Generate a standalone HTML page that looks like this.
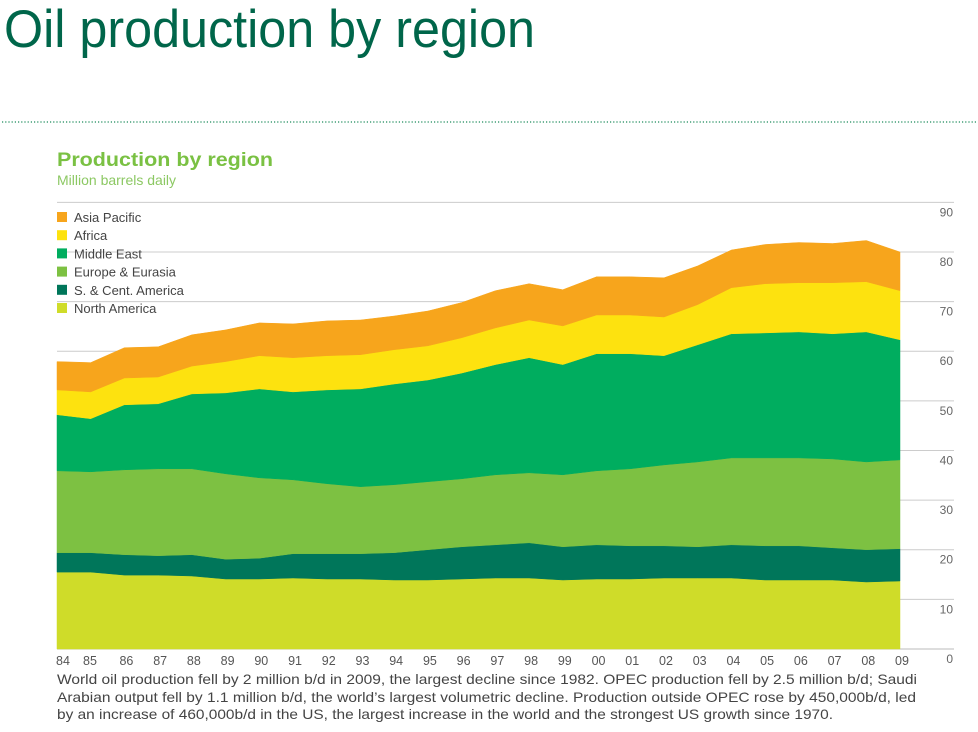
<!DOCTYPE html>
<html><head><meta charset="utf-8"><style>
body{margin:0;background:#fff;}
svg{display:block;font-family:"Liberation Sans",Arial,sans-serif;}
</style></head><body>
<svg id="chart" width="978" height="732" viewBox="0 0 978 732">
<text x="4" y="47" font-size="53" fill="#00664a" textLength="531" lengthAdjust="spacingAndGlyphs">Oil production by region</text>
<line x1="2" y1="122" x2="978" y2="122" stroke="#1a8a5a" stroke-width="1.2" stroke-dasharray="1.2,2"/>
<text x="57" y="166" font-size="19" font-weight="bold" fill="#7ac143" textLength="216" lengthAdjust="spacingAndGlyphs">Production by region</text>
<text x="57" y="185" font-size="14" fill="#8cc863">Million barrels daily</text>
<g id="grid"></g>
<g id="areas"></g>
<g id="legend"></g>
<g id="xlabels"></g>
<g font-size="14" fill="#444">
<text x="57" y="684" textLength="860" lengthAdjust="spacingAndGlyphs">World oil production fell by 2 million b/d in 2009, the largest decline since 1982. OPEC production fell by 2.5 million b/d; Saudi</text>
<text x="57" y="702" textLength="859" lengthAdjust="spacingAndGlyphs">Arabian output fell by 1.1 million b/d, the world’s largest volumetric decline. Production outside OPEC rose by 450,000b/d, led</text>
<text x="57" y="719" textLength="776" lengthAdjust="spacingAndGlyphs">by an increase of 460,000b/d in the US, the largest increase in the world and the strongest US growth since 1970.</text>
</g>
</svg>
<script>
const years = ["84","85","86","87","88","89","90","91","92","93","94","95","96","97","98","99","00","01","02","03","04","05","06","07","08","09"];
const yTicks = [0,10,20,30,40,50,60,70,80,90];
// Cumulative (stacked) top of each series, million barrels daily
const northAmericaTop = [15.5,15.5,14.9,14.9,14.7,14.1,14.1,14.3,14.1,14.1,13.9,13.9,14.1,14.3,14.3,13.9,14.1,14.1,14.3,14.3,14.3,13.9,13.9,13.9,13.5,13.7];
const sCentAmericaTop = [19.4,19.4,19.0,18.8,19.0,18.1,18.3,19.2,19.2,19.2,19.4,20.0,20.6,21.0,21.4,20.6,21.0,20.8,20.8,20.6,21.0,20.8,20.8,20.4,20.0,20.2];
const europeEurasiaTop = [35.9,35.7,36.1,36.3,36.3,35.3,34.5,34.1,33.3,32.7,33.1,33.7,34.3,35.1,35.5,35.1,35.9,36.3,37.1,37.7,38.5,38.5,38.5,38.3,37.7,38.1];
const middleEastTop = [47.2,46.4,49.2,49.4,51.4,51.6,52.4,51.8,52.2,52.4,53.4,54.2,55.6,57.3,58.7,57.3,59.5,59.5,59.1,61.3,63.5,63.7,63.9,63.5,63.9,62.3];
const africaTop = [52.2,51.8,54.6,54.8,57.0,57.9,59.1,58.7,59.1,59.3,60.3,61.1,62.7,64.7,66.3,65.1,67.3,67.3,66.9,69.4,72.8,73.6,73.8,73.8,74.0,72.2];
const asiaPacificTop = [57.9,57.7,60.7,60.9,63.3,64.3,65.7,65.5,66.1,66.3,67.1,68.1,69.8,72.2,73.6,72.4,75.0,75.0,74.8,77.2,80.4,81.5,81.9,81.7,82.3,80.0];

const NS="http://www.w3.org/2000/svg";
const X0=57,X1=900,Y0=649,YPER=4.963;
function xs(i){return X0+i*(X1-X0)/(years.length-1);}
function ys(v){return Y0-v*YPER;}
function mk(tag,attrs,parent){const e=document.createElementNS(NS,tag);for(const k in attrs)e.setAttribute(k,attrs[k]);parent.appendChild(e);return e;}

const grid=document.getElementById('grid');
yTicks.forEach(t=>{
  const l=mk('line',{x1:57,x2:954,y1:ys(t),y2:ys(t),stroke:t===0?'#bbb':'#ccc','stroke-width':1},grid);
  
  
  const tx=mk('text',{x:953,y:ys(t)+14,'text-anchor':'end','font-size':12,fill:'#666'},grid);
  tx.textContent=t;
  
  
});

const series=[
 {name:'north-america',label:'North America',top:northAmericaTop,bot:null,color:'#cfdc29'},
 {name:'s-cent-america',label:'S. & Cent. America',top:sCentAmericaTop,bot:northAmericaTop,color:'#00765a'},
 {name:'europe-eurasia',label:'Europe & Eurasia',top:europeEurasiaTop,bot:sCentAmericaTop,color:'#7dc142'},
 {name:'middle-east',label:'Middle East',top:middleEastTop,bot:europeEurasiaTop,color:'#00ad5f'},
 {name:'africa',label:'Africa',top:africaTop,bot:middleEastTop,color:'#fde20f'},
 {name:'asia-pacific',label:'Asia Pacific',top:asiaPacificTop,bot:africaTop,color:'#f7a51c'}
];
const areas=document.getElementById('areas');
series.forEach(s=>{
  let d='';
  s.top.forEach((v,i)=>{d+=(i?'L':'M')+xs(i).toFixed(1)+','+ys(v).toFixed(1);});
  for(let i=years.length-1;i>=0;i--){d+='L'+xs(i).toFixed(1)+','+ys(s.bot?s.bot[i]:0).toFixed(1);}
  const p=mk('path',{d:d+'Z',fill:s.color,stroke:s.color,'stroke-width':0.5},areas);
  
  
});

const legend=document.getElementById('legend');
series.slice().reverse().forEach((s,i)=>{
  const g=mk('g',{},legend);
  
  
  mk('rect',{x:57,y:212+i*18.2,width:10,height:10,fill:s.color},g);
  const t=mk('text',{x:74,y:222+i*18.2,'font-size':13,fill:'#444'},g);
  t.textContent=s.label;
});

const xl=document.getElementById('xlabels');
years.forEach((y,i)=>{
  let x=xs(i)+2; if(i===0)x=63; if(i===1)x=90;
  const t=mk('text',{x:x,y:665,'text-anchor':'middle','font-size':12.5,fill:'#555'},xl);
  t.textContent=y;
  
  
});
</script>
</body></html>
